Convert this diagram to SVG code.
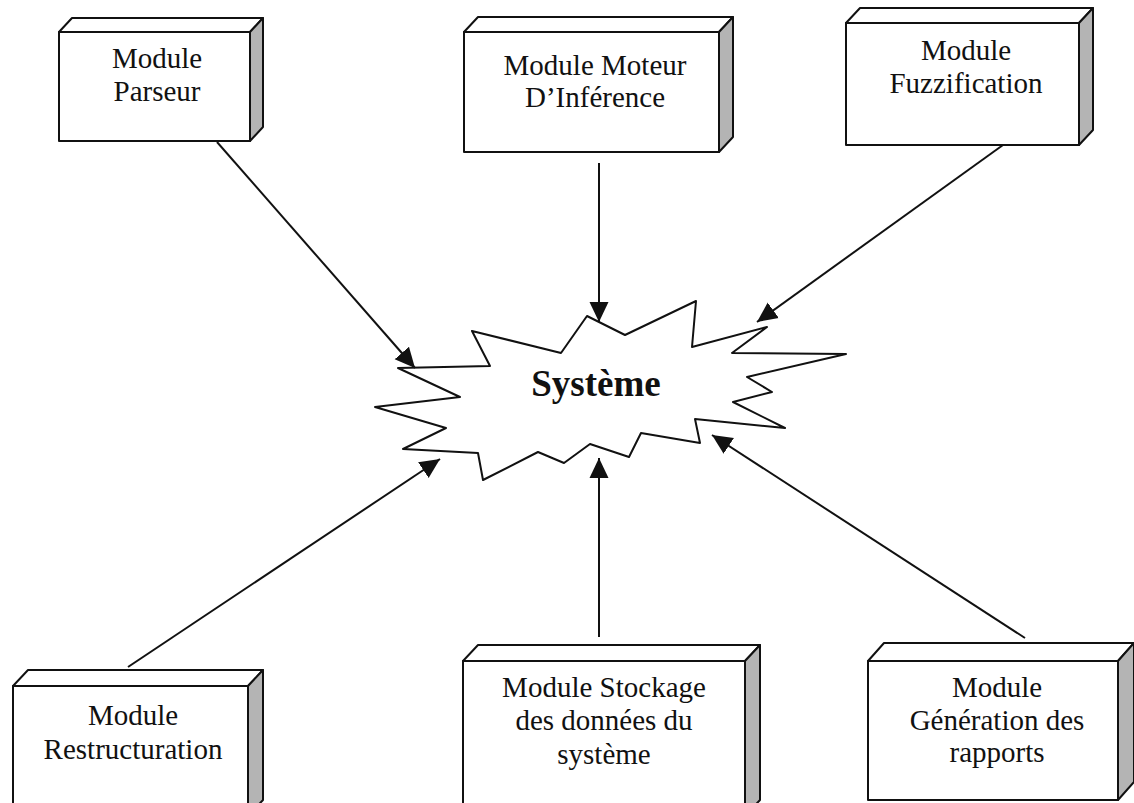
<svg xmlns="http://www.w3.org/2000/svg" width="1134" height="803" viewBox="0 0 1134 803">
  <style>
    .face { fill: #ffffff; stroke: #111111; stroke-width: 2; stroke-linejoin: round; }
    .side { fill: #b4b4b4; stroke: #111111; stroke-width: 2; stroke-linejoin: round; }
    .label { font-family: "Liberation Serif", "Times New Roman", serif; font-size: 29px; fill: #111111; text-anchor: middle; }
    .title { font-family: "Liberation Serif", "Times New Roman", serif; font-size: 37px; font-weight: bold; fill: #111111; text-anchor: middle; }
    .link { stroke: #111111; stroke-width: 2; fill: none; marker-end: url(#head); }
  </style>
  <defs>
    <marker id="head" viewBox="0 0 20 20" refX="20" refY="10" markerWidth="20" markerHeight="20" markerUnits="userSpaceOnUse" orient="auto">
      <path d="M0,0.5 L20,10 L0,19.5 Z" fill="#111111"/>
    </marker>
  </defs>
  <rect width="1134" height="803" fill="#ffffff"/>

  <!-- central starburst -->
  <g id="systeme">
    <polygon class="face" points="398,368 490,366 472,331 561,353 587,316 625,335 696,301 692,347 767,327 732,353 846,354 747,377 772,392 733,402 785,428 695,419 700,443 641,433 629,457 590,444 564,463 538,452 483,480 478,453 403,449 446,428 375,407 460,397"/>
    <text class="title" x="596" y="396">Système</text>
  </g>

  <!-- module boxes: front face, top face, shaded right side -->
  <g id="parseur">
    <polygon class="face" points="59,32 72,18 263,18 250,32"/>
    <polygon class="side" points="250,32 263,18 263,127 250,141"/>
    <rect class="face" x="59" y="32" width="191" height="109"/>
    <text class="label" x="157" y="68">Module</text>
    <text class="label" x="157" y="101">Parseur</text>
  </g>

  <g id="moteur">
    <polygon class="face" points="464,32 478,17 733,17 719,32"/>
    <polygon class="side" points="719,32 733,17 733,137 719,152"/>
    <rect class="face" x="464" y="32" width="255" height="120"/>
    <text class="label" x="595" y="75">Module Moteur</text>
    <text class="label" x="595" y="107">D’Inférence</text>
  </g>

  <g id="fuzzification">
    <polygon class="face" points="846,23 860,8 1093,8 1079,23"/>
    <polygon class="side" points="1079,23 1093,8 1093,130 1079,145"/>
    <rect class="face" x="846" y="23" width="233" height="122"/>
    <text class="label" x="966" y="60">Module</text>
    <text class="label" x="966" y="93">Fuzzification</text>
  </g>

  <g id="restructuration">
    <polygon class="face" points="13,686 28,670 263,670 248,686"/>
    <polygon class="side" points="248,686 263,670 263,800 248,816"/>
    <rect class="face" x="13" y="686" width="235" height="130"/>
    <text class="label" x="133" y="725">Module</text>
    <text class="label" x="133" y="759">Restructuration</text>
  </g>

  <g id="stockage">
    <polygon class="face" points="463,661 478,645 760,645 745,661"/>
    <polygon class="side" points="745,661 760,645 760,800 745,816"/>
    <rect class="face" x="463" y="661" width="282" height="155"/>
    <text class="label" x="604" y="697">Module Stockage</text>
    <text class="label" x="604" y="730">des données du</text>
    <text class="label" x="604" y="764">système</text>
  </g>

  <g id="generation">
    <polygon class="face" points="868,661 884,643 1134,643 1118,661"/>
    <polygon class="side" points="1118,661 1134,643 1134,782 1118,800"/>
    <rect class="face" x="868" y="661" width="250" height="139"/>
    <text class="label" x="997" y="697">Module</text>
    <text class="label" x="997" y="730">Génération des</text>
    <text class="label" x="997" y="762">rapports</text>
  </g>

  <!-- connectors into the system -->
  <g id="connectors">
    <line class="link" x1="217" y1="142" x2="415" y2="368"/>
    <line class="link" x1="599" y1="163" x2="599" y2="322"/>
    <line class="link" x1="1003" y1="145" x2="757" y2="322"/>
    <line class="link" x1="128" y1="667" x2="440" y2="459"/>
    <line class="link" x1="599" y1="637" x2="599" y2="458"/>
    <line class="link" x1="1025" y1="638" x2="712" y2="435"/>
  </g>
</svg>
